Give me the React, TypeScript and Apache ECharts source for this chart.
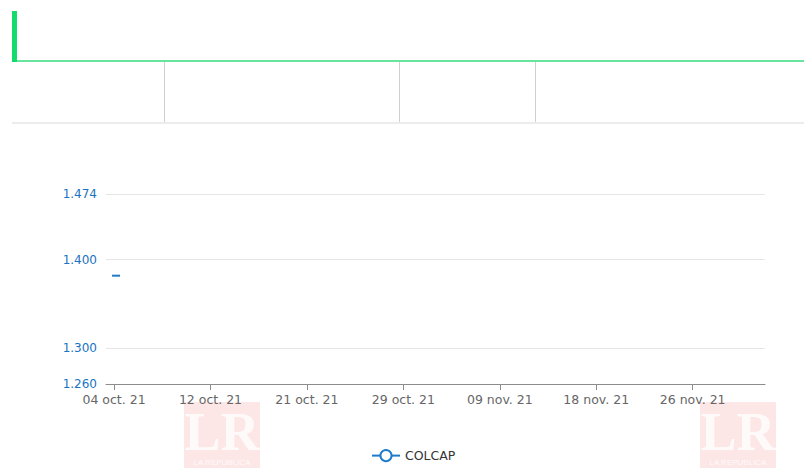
import React, { useEffect, useRef } from "react";
import * as echarts from "echarts";

const categories = [
  "04 oct. 21", "05 oct. 21", "06 oct. 21", "07 oct. 21", "08 oct. 21", "11 oct. 21",
  "12 oct. 21", "13 oct. 21", "14 oct. 21", "15 oct. 21", "19 oct. 21", "20 oct. 21",
  "21 oct. 21", "22 oct. 21", "25 oct. 21", "26 oct. 21", "27 oct. 21", "28 oct. 21",
  "29 oct. 21", "02 nov. 21", "03 nov. 21", "04 nov. 21", "05 nov. 21", "08 nov. 21",
  "09 nov. 21", "10 nov. 21", "11 nov. 21", "12 nov. 21", "16 nov. 21", "17 nov. 21",
  "18 nov. 21", "19 nov. 21", "22 nov. 21", "23 nov. 21", "24 nov. 21", "25 nov. 21",
  "26 nov. 21", "29 nov. 21", "30 nov. 21", "01 dic. 21", "02 dic. 21",
];
const colcapValues: (number | null)[] = [1382];
const yTickValues = [1260, 1300, 1400, 1474];
const yMin = 1260;
const yMax = 1474;
const seriesName = "COLCAP";

const fmt = (v: number) => {
  const s = String(Math.round(v));
  return s.replace(/\B(?=(\d{3})+(?!\d))/g, ".");
};

export default function App() {
  const ref = useRef<HTMLDivElement>(null);
  useEffect(() => {
    if (!ref.current) return;
    const chart = echarts.init(ref.current, null, { renderer: "svg" });
    const font = "'DejaVu Sans', Verdana, sans-serif";
    const data = colcapValues.map((v) => ({
      value: v,
      symbol: "rect",
      symbolSize: [8, 2],
      symbolOffset: [2, 0],
      itemStyle: { color: "#1f7ac9", borderWidth: 0 },
    }));
    const wm = (x: number) => ({
      type: "group",
      left: x,
      top: 402,
      children: [
        { type: "rect", shape: { x: 0, y: 0, width: 76, height: 66 }, style: { fill: "#fce6e6" } },
        {
          type: "text",
          x: 38,
          y: 10,
          style: {
            text: "LR",
            fill: "#fffafa",
            font: "bold 54px 'Liberation Serif', serif",
            lineHeight: 40,
            align: "center",
            verticalAlign: "top",
          },
        },
        {
          type: "text",
          x: 38,
          y: 56,
          style: {
            text: "LA REPUBLICA",
            fill: "#fffafa",
            font: "8px 'Liberation Sans', sans-serif",
            lineHeight: 8,
            align: "center",
            verticalAlign: "top",
          },
        },
      ],
    });
    chart.setOption({
      animation: false,
      backgroundColor: "#ffffff",
      grid: { left: 106, right: 39, top: 194, bottom: 91, containLabel: false },
      xAxis: {
        type: "category",
        data: categories,
        boundaryGap: true,
        axisLine: { show: true, lineStyle: { color: "#8c8c8c", width: 1 } },
        axisTick: {
          show: true,
          alignWithLabel: true,
          interval: 5,
          length: 6,
          lineStyle: { color: "#8c8c8c", width: 1 },
        },
        axisLabel: { interval: 5, color: "#666666", fontSize: 12.5, fontFamily: font, margin: 9 },
        splitLine: { show: false },
      },
      yAxis: {
        type: "value",
        min: yMin,
        max: yMax,
        axisLine: { show: false },
        axisTick: { show: false, customValues: yTickValues },
        axisLabel: {
          customValues: yTickValues,
          color: "#1a73c2",
          fontSize: 12,
          fontFamily: font,
          margin: 9,
          formatter: (v: number) => fmt(v),
        },
        splitLine: { show: true, lineStyle: { color: "#e6e6e6", width: 1 } },
      },
      legend: {
        left: 366,
        top: 444,
        itemWidth: 28,
        itemHeight: 14,
        itemGap: 10,
        textStyle: { color: "#333333", fontSize: 12.5, fontFamily: font },
        data: [seriesName],
      },
      series: [
        {
          name: seriesName,
          type: "line",
          data,
          symbol: "emptyCircle",
          symbolSize: 10,
          legendIcon: "emptyCircle",
          showSymbol: true,
          lineStyle: { color: "#1f7ac9", width: 2 },
          itemStyle: { color: "#1f7ac9", borderColor: "#1f7ac9", borderWidth: 2 },
        },
      ],
      graphic: [
        { type: "rect", shape: { x: 12, y: 11, width: 5, height: 51 }, style: { fill: "#12dc6c" } },
        { type: "rect", shape: { x: 17, y: 60, width: 787, height: 2 }, style: { fill: "#68e49e" } },
        { type: "rect", shape: { x: 164, y: 62, width: 1, height: 61 }, style: { fill: "#d0d0d0" } },
        { type: "rect", shape: { x: 399, y: 62, width: 1, height: 61 }, style: { fill: "#d0d0d0" } },
        { type: "rect", shape: { x: 535, y: 62, width: 1, height: 61 }, style: { fill: "#d0d0d0" } },
        { type: "rect", shape: { x: 12, y: 122, width: 792, height: 2 }, style: { fill: "#ececec" } },
        wm(184),
        wm(700),
      ],
    });
    return () => chart.dispose();
  }, []);
  return (
    <div style={{ position: "fixed", left: 0, top: 0, width: 804, height: 475 }}>
      <div ref={ref} style={{ width: 804, height: 475 }} />
    </div>
  );
}
